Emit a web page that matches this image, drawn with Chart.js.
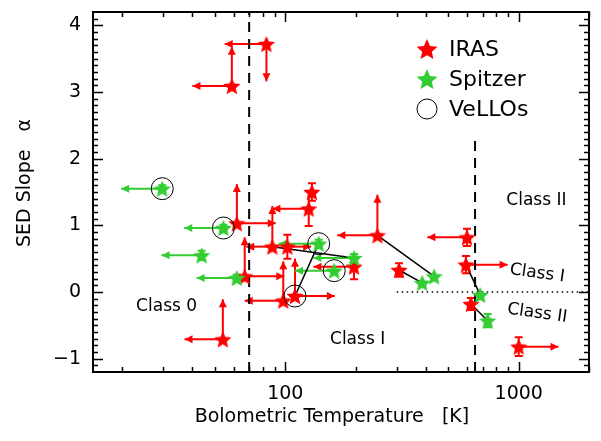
<!DOCTYPE html>
<html>
<head>
<meta charset="utf-8">
<script src="https://cdn.jsdelivr.net/npm/chart.js@4.4.1/dist/chart.umd.min.js"></script>
<style>
  html, body { margin: 0; padding: 0; background: #fff; }
  #wrap { width: 601px; height: 441px; }
</style>
</head>
<body>
<div id="wrap"><canvas id="sed-chart" width="601" height="441"></canvas></div>
<script>
// IRAS sources: Tbol [K], alpha, error on alpha, and limit arrows (null = none)
const IRAS_TBOL  = [83, 59, 62, 88, 126, 130, 102, 67, 54, 98, 110, 197, 248, 307, 600, 594, 624, 1000]
const IRAS_ALPHA = [3.72, 3.09, 1.03, 0.68, 1.25, 1.50, 0.68, 0.235, -0.71, -0.13, -0.06, 0.38, 0.85, 0.33, 0.82, 0.41, -0.18, -0.82]
const IRAS_ERR   = [0, 0, 0, 0, 0.26, 0.13, 0.18, 0, 0, 0, 0, 0.19, 0, 0.1, 0.13, 0.13, 0.09, 0.14]
const IRAS_TLIM  = [55, 40, 91, 68, 88, null, 129, 99, 37, 67, 163, 132, 167, null, 406, 896, null, 1480]
const IRAS_ALIM  = [3.16, 3.68, 1.62, 1.29, null, null, null, 0.82, -0.11, 0.46, 0.50, null, 1.46, null, null, null, null, null]

// Spitzer sources
const SPITZER_TBOL  = [29.7, 54.3, 43.8, 61.9, 139, 162, 197, 434, 386, 684, 736]
const SPITZER_ALPHA = [1.55, 0.96, 0.55, 0.21, 0.725, 0.32, 0.51, 0.235, 0.137, -0.044, -0.43]
const SPITZER_ERR   = [0.05, 0.05, 0.07, 0.05, 0.06, 0, 0.06, 0, 0, 0, 0.1]
const SPITZER_TLIM  = [19.8, 36.9, 29.5, 41.7, 93.6, 110, 132, null, null, null, null]

// VeLLOs (circled)
const VELLO_TBOL  = [29.7, 54.3, 139, 162, 110]
const VELLO_ALPHA = [1.55, 0.96, 0.725, 0.32, -0.06]

// same source seen by both: [IRAS index, Spitzer index]
const LINKS = [[3, 6], [10, 4], [12, 7], [13, 8], [15, 9], [16, 10]]

// class boundaries
const BOUNDARY_TBOL = [70, 650]
const BOUNDARY_TOP  = [4.2, 2.3]
const DOTTED_FROM   = 300

const CLASS_TEXT  = ['Class 0', 'Class I', 'Class II', 'Class I', 'Class II']
const CLASS_TBOL  = [31, 204, 1190, 1200, 1200]
const CLASS_ALPHA = [-0.22, -0.72, 1.37, 0.28, -0.32]
const CLASS_TILT  = [0, 0, 0, 8, 8]

const X_MAJOR = [100, 1000]
const X_MINOR = [20, 30, 40, 50, 60, 70, 80, 90, 200, 300, 400, 500, 600, 700, 800, 900, 2000]
const Y_MAJOR = [-1, 0, 1, 2, 3, 4]

const RED = '#ff0000'
const GREEN = '#33cc33'
const FONT = 'DejaVu Sans'

function starImage(color, r) {
  const c = document.createElement('canvas')
  const s = Math.ceil(r * 2 + 2)
  c.width = s; c.height = s
  const g = c.getContext('2d')
  g.fillStyle = color
  g.beginPath()
  for (let i = 0; i < 10; i++) {
    const rad = i % 2 ? r * 0.46 : r
    const a = -Math.PI / 2 + i * Math.PI / 5
    g.lineTo(s / 2 + rad * Math.cos(a), s / 2 + rad * Math.sin(a) + r * 0.1)
  }
  g.closePath()
  g.fill()
  return c
}

const redStar = starImage(RED, 9)
const greenStar = starImage(GREEN, 9)

const pts = (xs, ys) => xs.map((x, i) => ({ x, y: ys[i] }))

function arrow(ctx, x0, y0, x1, y1) {
  ctx.beginPath(); ctx.moveTo(x0, y0); ctx.lineTo(x1, y1); ctx.stroke()
  const a = Math.atan2(y1 - y0, x1 - x0), L = 8, W = 4
  ctx.beginPath()
  ctx.moveTo(x1, y1)
  ctx.lineTo(x1 - L * Math.cos(a) + W * Math.sin(a), y1 - L * Math.sin(a) - W * Math.cos(a))
  ctx.lineTo(x1 - L * Math.cos(a) - W * Math.sin(a), y1 - L * Math.sin(a) + W * Math.cos(a))
  ctx.closePath(); ctx.fill()
}

// error bars and limit arrows, under the stars
const limitsPlugin = {
  id: 'limits',
  beforeDatasetsDraw(chart) {
    const { ctx, scales: { x, y } } = chart
    ctx.save()
    ctx.lineWidth = 2
    chart.data.datasets.forEach(ds => {
      if (!ds.errs) return
      ctx.strokeStyle = ds.tint; ctx.fillStyle = ds.tint
      ds.data.forEach((p, i) => {
        const px = x.getPixelForValue(p.x), py = y.getPixelForValue(p.y)
        const e = ds.errs[i]
        if (e) {
          const t = y.getPixelForValue(p.y + e), b = y.getPixelForValue(p.y - e)
          ctx.beginPath()
          ctx.moveTo(px, t); ctx.lineTo(px, b)
          ctx.moveTo(px - 4, t); ctx.lineTo(px + 4, t)
          ctx.moveTo(px - 4, b); ctx.lineTo(px + 4, b)
          ctx.stroke()
        }
        if (ds.tLim && ds.tLim[i] != null) arrow(ctx, px, py, x.getPixelForValue(ds.tLim[i]), py)
        if (ds.aLim && ds.aLim[i] != null) arrow(ctx, px, py, px, y.getPixelForValue(ds.aLim[i]))
      })
    })
    ctx.restore()
  },
}

// box with inward ticks on all four sides, plus legend and class labels
const framePlugin = {
  id: 'frame',
  afterDraw(chart) {
    const { ctx, chartArea: a, scales: { x, y } } = chart
    ctx.save()
    ctx.strokeStyle = '#000'
    ctx.lineWidth = 2
    ctx.strokeRect(a.left, a.top, a.right - a.left, a.bottom - a.top)
    ctx.lineWidth = 1.5
    ctx.beginPath()
    const xt = (v, len) => {
      const p = Math.round(x.getPixelForValue(v)) + 0.5
      ctx.moveTo(p, a.bottom); ctx.lineTo(p, a.bottom - len)
      ctx.moveTo(p, a.top); ctx.lineTo(p, a.top + len)
    }
    X_MAJOR.forEach(v => xt(v, 10))
    X_MINOR.forEach(v => xt(v, 5))
    for (let k = -11; k <= 41; k++) {
      const len = k % 10 === 0 ? 10 : 5
      const p = Math.round(y.getPixelForValue(k / 10)) + 0.5
      ctx.moveTo(a.left, p); ctx.lineTo(a.left + len, p)
      ctx.moveTo(a.right, p); ctx.lineTo(a.right - len, p)
    }
    ctx.stroke()

    // class labels
    ctx.fillStyle = '#000'
    ctx.font = `17px "${FONT}"`
    ctx.textAlign = 'center'
    ctx.textBaseline = 'middle'
    CLASS_TEXT.forEach((t, i) => {
      ctx.save()
      ctx.translate(x.getPixelForValue(CLASS_TBOL[i]), y.getPixelForValue(CLASS_ALPHA[i]))
      ctx.rotate(CLASS_TILT[i] * Math.PI / 180)
      ctx.fillText(t, 0, 0)
      ctx.restore()
    })

    // legend
    ctx.font = `22px "${FONT}"`
    ctx.textAlign = 'left'
    const lx = a.left + 334, ly = a.top + 37
    chart.data.datasets.filter(d => d.legendIcon).forEach((d, i) => {
      const cy = ly + i * 30
      if (d.legendIcon === 'circle') {
        ctx.lineWidth = 1
        ctx.beginPath(); ctx.arc(lx, cy, 10, 0, Math.PI * 2); ctx.stroke()
      } else {
        const img = starImage(d.tint, 11)
        ctx.drawImage(img, lx - img.width / 2, cy - img.height / 2)
      }
      ctx.fillText(d.label, lx + 22, cy + 1)
    })
    ctx.restore()
  },
}

const lineDs = (data, extra) => Object.assign({
  data, showLine: true, pointRadius: 0, borderColor: '#000', borderWidth: 1.5, order: 5,
}, extra)

const datasets = [
  ...BOUNDARY_TBOL.map((t, i) => lineDs(
    [{ x: t, y: -1.2 }, { x: t, y: BOUNDARY_TOP[i] }], { borderWidth: 2, borderDash: [10, 7] })),
  lineDs([{ x: DOTTED_FROM, y: 0 }, { x: 2000, y: 0 }], { borderWidth: 1.5, borderDash: [1.5, 3.5] }),
  ...LINKS.map(([ii, si]) => lineDs([
    { x: IRAS_TBOL[ii], y: IRAS_ALPHA[ii] },
    { x: SPITZER_TBOL[si], y: SPITZER_ALPHA[si] },
  ])),
  {
    label: 'IRAS', legendIcon: 'star', tint: RED, order: 2,
    data: pts(IRAS_TBOL, IRAS_ALPHA), errs: IRAS_ERR, tLim: IRAS_TLIM, aLim: IRAS_ALIM,
    pointStyle: redStar,
  },
  {
    label: 'Spitzer', legendIcon: 'star', tint: GREEN, order: 1,
    data: pts(SPITZER_TBOL, SPITZER_ALPHA), errs: SPITZER_ERR, tLim: SPITZER_TLIM,
    pointStyle: greenStar,
  },
  {
    label: 'VeLLOs', legendIcon: 'circle', order: 0,
    data: pts(VELLO_TBOL, VELLO_ALPHA),
    pointStyle: 'circle', pointRadius: 11, borderColor: '#000', borderWidth: 1,
    backgroundColor: 'rgba(0,0,0,0)',
  },
]

const tickFont = { family: FONT, size: 19 }

new Chart(document.getElementById('sed-chart'), {
  type: 'scatter',
  data: { datasets },
  plugins: [limitsPlugin, framePlugin],
  options: {
    responsive: false,
    animation: false,
    events: [],
    layout: { padding: { top: 6, right: 11, left: 0, bottom: 0 } },
    plugins: { legend: { display: false }, tooltip: { enabled: false } },
    scales: {
      x: {
        type: 'logarithmic', min: 15, max: 2000,
        afterBuildTicks: s => { s.ticks = X_MAJOR.map(v => ({ value: v })) },
        afterFit: s => { s.height = 69; s.paddingLeft = 0; s.paddingRight = 0 },
        grid: { display: false, drawTicks: false },
        border: { display: false },
        ticks: { color: '#000', font: tickFont, padding: 11, maxRotation: 0, autoSkip: false, callback: v => String(v) },
        title: { display: true, text: 'Bolometric Temperature   [K]   ', color: '#000', font: tickFont, padding: { top: 0, bottom: 13 } },
      },
      y: {
        min: -1.2, max: 4.2,
        afterBuildTicks: s => { s.ticks = Y_MAJOR.map(v => ({ value: v })) },
        afterFit: s => { s.width = 93; s.paddingTop = 0; s.paddingBottom = 0 },
        grid: { display: false, drawTicks: false },
        border: { display: false },
        ticks: { color: '#000', font: tickFont, padding: 12, callback: v => (v < 0 ? '\u2212' + Math.abs(v) : String(v)) },
        title: { display: true, text: '   SED Slope   \u03b1', color: '#000', font: tickFont, padding: { top: 14, bottom: 0 } },
      },
    },
  },
})
</script>
</body>
</html>
